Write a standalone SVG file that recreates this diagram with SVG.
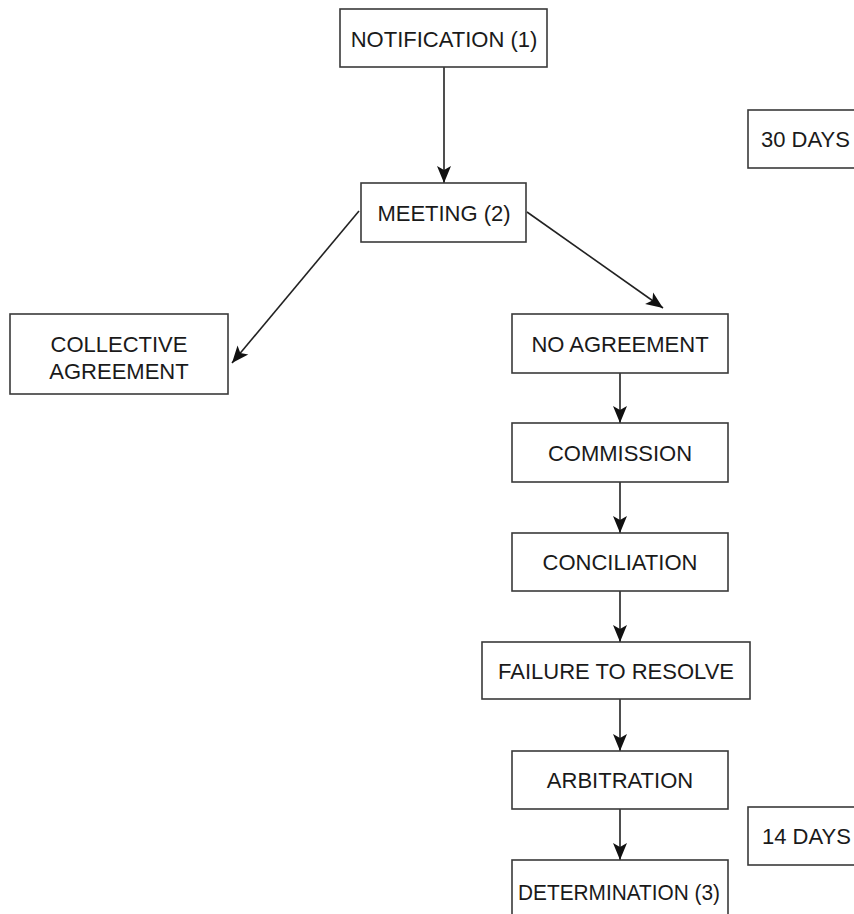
<svg xmlns="http://www.w3.org/2000/svg" width="854" height="914" viewBox="0 0 854 914">
<style>
.box{fill:#fff;stroke:#3a3a3a;stroke-width:1.6}
.t{font-family:"Liberation Sans",Arial,sans-serif;font-size:22px;fill:#1a1a1a;text-anchor:middle}
.ts{font-family:"Liberation Sans",Arial,sans-serif;font-size:22px;fill:#1a1a1a;text-anchor:start}
.c{stroke:#222;stroke-width:1.6;fill:none;marker-end:url(#ah)}
</style>
<defs>
<marker id="ah" markerUnits="userSpaceOnUse" markerWidth="20" markerHeight="16" viewBox="0 -8 18 16" refX="17" refY="0" orient="auto">
<path d="M0,-7 L17,0 L0,7 L4,0 Z" fill="#111"/>
</marker>
</defs>
<rect width="854" height="914" fill="#fff"/>
<g id="connectors">
<line class="c" x1="444" y1="67" x2="444" y2="183"/>
<line class="c" x1="359" y1="211" x2="232" y2="363"/>
<line class="c" x1="527" y1="212" x2="663" y2="308"/>
<line class="c" x1="620" y1="373" x2="620" y2="423"/>
<line class="c" x1="620" y1="482" x2="620" y2="533"/>
<line class="c" x1="620" y1="591" x2="620" y2="642"/>
<line class="c" x1="620" y1="699" x2="620" y2="751"/>
<line class="c" x1="620" y1="809" x2="620" y2="860"/>
</g>
<g id="notification"><rect class="box" x="340" y="9" width="207" height="58"/><text class="t" x="444" y="47">NOTIFICATION (1)</text></g>
<g id="meeting"><rect class="box" x="361" y="183" width="165" height="59"/><text class="t" x="444" y="221">MEETING (2)</text></g>
<g id="collective"><rect class="box" x="10" y="314" width="218" height="80"/><text class="t" x="119" y="352">COLLECTIVE</text><text class="t" x="119" y="379">AGREEMENT</text></g>
<g id="no-agreement"><rect class="box" x="512" y="314" width="216" height="59"/><text class="t" x="620" y="352">NO AGREEMENT</text></g>
<g id="commission"><rect class="box" x="512" y="423" width="216" height="59"/><text class="t" x="620" y="461">COMMISSION</text></g>
<g id="conciliation"><rect class="box" x="512" y="533" width="216" height="58"/><text class="t" x="620" y="570">CONCILIATION</text></g>
<g id="failure"><rect class="box" x="482" y="642" width="268" height="57"/><text class="t" x="616" y="679">FAILURE TO RESOLVE</text></g>
<g id="arbitration"><rect class="box" x="512" y="751" width="216" height="58"/><text class="t" x="620" y="788">ARBITRATION</text></g>
<g id="determination"><rect class="box" x="512" y="860" width="216" height="70"/><text class="t" x="619" y="900" textLength="202" lengthAdjust="spacingAndGlyphs">DETERMINATION (3)</text></g>
<g id="days30"><rect class="box" x="748" y="110" width="130" height="58"/><text class="ts" x="761" y="147">30 DAYS</text></g>
<g id="days14"><rect class="box" x="748" y="807" width="130" height="58"/><text class="ts" x="762" y="844">14 DAYS</text></g>
</svg>
